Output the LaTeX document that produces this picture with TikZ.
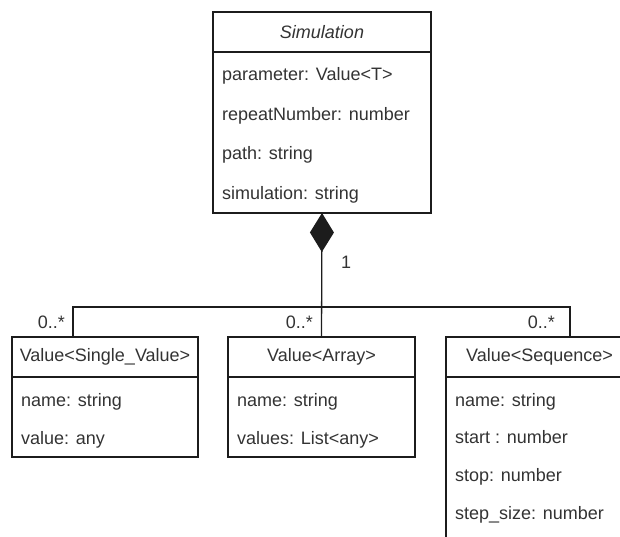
\documentclass[tikz,border=0pt]{standalone}
\usepackage{fontspec}
\setmainfont{Liberation Sans}
\usetikzlibrary{arrows.meta}
\usetikzlibrary{positioning}
\definecolor{umltext}{HTML}{333333}
\definecolor{umlline}{HTML}{1C1C1C}
\newcommand{\umlfont}{\fontsize{18}{21}\selectfont}
\tikzstyle{classhead} = [rectangle, draw=umlline, line width=1.3pt, minimum height=40pt, inner sep=0pt, outer sep=0pt, text=umltext, font=\umlfont]
\tikzstyle{classbody} = [rectangle, draw=umlline, line width=1.3pt, inner sep=0pt, outer sep=0pt]
\tikzstyle{attr} = [anchor=base west, inner sep=0pt, text=umltext, font=\umlfont]
\tikzstyle{mult} = [anchor=east, inner sep=0pt, text=umltext, font=\umlfont]
\tikzstyle{assoc} = [draw=umlline, line width=1.3pt]

\begin{document}
\begin{tikzpicture}[x=1pt, y=-1pt]
\clip (0,0) rectangle (620,536);

% main class
\node (sim) [classhead, anchor=north west, minimum width=218pt] at (213,12) {\textit{Simulation}};
\node (simbody) [classbody, below=0pt of sim, minimum width=218pt, minimum height=161pt] {};
\foreach \txt [count=\i] in {parameter: Value<T>, repeatNumber: number, path: string, simulation: string}
  \node (simattr\i) [attr] at (222, 80.5+39.5*\i-39.5) {\txt};

% value classes
\node (single) [classhead, anchor=north west, minimum width=186pt] at (12,337) {Value<Single\_Value>};
\node (singlebody) [classbody, below=0pt of single, minimum width=186pt, minimum height=80pt] {};
\node (singleattr1) [attr] at (21,406) {name: string};
\node (singleattr2) [attr] at (21,444) {value: any};

\node (arr) [classhead, anchor=north west, minimum width=187pt] at (228,337) {Value<Array>};
\node (arrbody) [classbody, below=0pt of arr, minimum width=187pt, minimum height=80pt] {};
\node (arrattr1) [attr] at (237,406) {name: string};
\node (arrattr2) [attr] at (237,444) {values: List<any>};

\node (seq) [classhead, anchor=north west, minimum width=187pt] at (446,337) {Value<Sequence>};
\node (seqbody) [classbody, below=0pt of seq, minimum width=187pt, minimum height=200pt] {};
\foreach \txt [count=\i] in {name: string, start : number, stop: number, step\_size: number}
  \node (seqattr\i) [attr] at (455, 406+37.7*\i-37.7) {\txt};

% composition
\coordinate (bus) at (322,307);
\draw [assoc, {Diamond[length=39pt, width=24pt]}-] (simbody.south) -- (arr.north);
\draw [assoc] ([xshift=-32pt]single.north) |- (bus) -| ([xshift=30.5pt]seq.north);

\node (one) [mult, anchor=west] at (341,262) {1};
\node (mult1) [mult] at (65,322) {0..*};
\node (mult2) [mult] at (313,322) {0..*};
\node (mult3) [mult] at (555,322) {0..*};
\end{tikzpicture}
\end{document}
